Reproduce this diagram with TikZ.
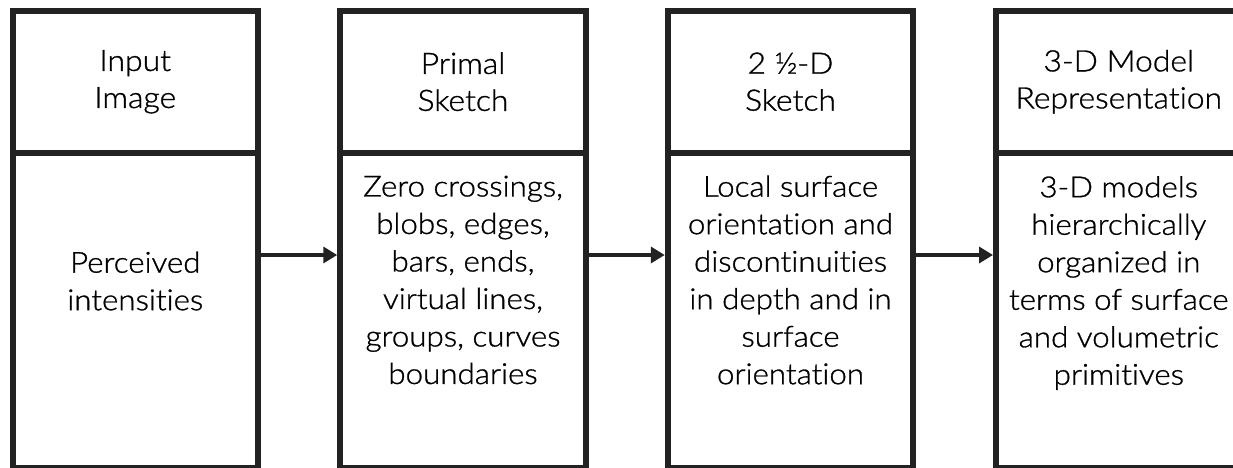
\documentclass[tikz,border=0pt]{standalone}
\usepackage{fontspec}
\setmainfont{Lato}[UprightFont=* Light, Ligatures=NoCommon, FakeStretch=1.08, FakeBold=1]
\usetikzlibrary{arrows.meta}
\definecolor{linec}{HTML}{222222}
\tikzset{
  hbox/.style={draw=linec, line width=6pt, minimum width=245.5pt, minimum height=141.5pt, inner sep=0pt, anchor=center},
  bbox/.style={draw=linec, line width=6pt, minimum width=245.5pt, minimum height=315.5pt, inner sep=0pt, anchor=center},
  htext/.style={font=\fontsize{29.5pt}{37pt}\selectfont, align=center, text=black},
  btext/.style={font=\fontsize{29pt}{37.5pt}\selectfont, align=center, text=black},
  arr/.style={draw=linec, line width=4.5pt, -{Triangle[length=14pt,width=16pt]}},
}
\begin{document}
\begin{tikzpicture}[x=1pt,y=1pt]
\useasboundingbox (0,0) rectangle (1233,-468);
\clip (0,0) rectangle (1233,-468);
% headers
\node[hbox] (h1) at (135.25,-81.75) {};
\node[hbox] (h2) at (463,-81.75) {};
\node[hbox] (h3) at (790.5,-81.75) {};
\node[hbox] (h4) at (1118.75,-81.75) {};
% bodies
\node[bbox] (b1) at (135.25,-310.25) {};
\node[bbox] (b2) at (463,-310.25) {};
\node[bbox] (b3) at (790.5,-310.25) {};
\node[bbox] (b4) at (1118.75,-310.25) {};
% header texts
\node[htext] (ht1) at (h1.center) {Input\\Image};
\node[htext] (ht2) at (h2.center) {Primal\\Sketch};
\node[htext] (ht3) at (h3.center) {2 ½-D\\Sketch};
\node[htext] (ht4) at (1118.75,-81.75) {3-D Model\\Representation};
% body texts
\node[btext] (bt1) at (135.25,-281) {Perceived\\intensities};
\node[btext] (bt2) at (463,-280) {Zero crossings,\\blobs, edges,\\bars, ends,\\virtual lines,\\groups, curves\\boundaries};
\node[btext] (bt3) at (790.5,-280) {Local surface\\orientation and\\discontinuities\\in depth and in\\surface\\orientation};
\node[btext] (bt4) at (1118.75,-283) {3-D models\\hierarchically\\organized in\\terms of surface\\and volumetric\\primitives};
% arrows
\draw[arr] ([yshift=55.25pt]b1.east) -- ([yshift=55.25pt]b2.west);
\draw[arr] ([yshift=55.25pt]b2.east) -- ([yshift=55.25pt]b3.west);
\draw[arr] ([yshift=55.25pt]b3.east) -- ([yshift=55.25pt]b4.west);
\end{tikzpicture}
\end{document}
